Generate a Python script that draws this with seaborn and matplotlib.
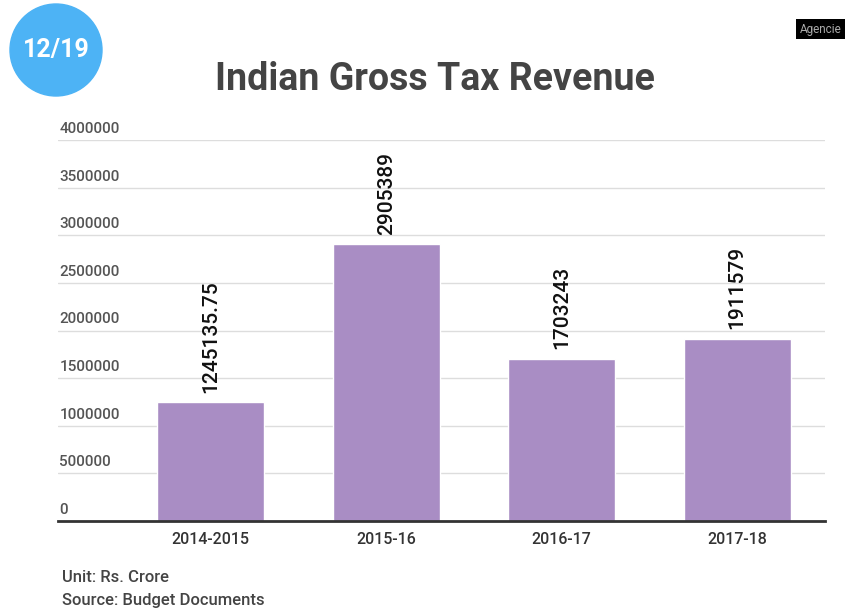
import matplotlib
matplotlib.use("Agg")
import matplotlib.pyplot as plt
import seaborn as sns
import pandas as pd
from matplotlib.patches import Circle

# Data
years = ["2014-2015", "2015-16", "2016-17", "2017-18"]
revenue = [1245135.75, 2905389, 1703243, 1911579]
value_labels = ["1245135.75", "2905389", "1703243", "1911579"]
y_ticks = [0, 500000, 1000000, 1500000, 2000000, 2500000, 3000000, 3500000, 4000000]

df = pd.DataFrame({"year": years, "revenue": revenue})

sns.set_style("white")
plt.rcParams["font.family"] = ["Roboto", "DejaVu Sans"]

fig = plt.figure(figsize=(8.46, 6.13), dpi=100)
ax = fig.add_axes([0.0686, 0.150, 0.9066, 0.6215])

sns.barplot(data=df, x="year", y="revenue", color="#a98dc4", width=0.61,
            saturation=1, ax=ax, zorder=3)

ax.set_xlim(-0.869, 3.50)
ax.set_ylim(0, 4000000)
ax.set_xlabel("")
ax.set_ylabel("")

# Horizontal gridlines with labels sitting above them
ax.set_yticks(y_ticks)
ax.set_yticklabels([])
ax.tick_params(axis="y", length=0)
for t in y_ticks:
    if t > 0:
        ax.axhline(t, color="#dddddd", lw=1, zorder=1)
    ax.annotate(str(t), xy=(0, t), xycoords=("axes fraction", "data"),
                xytext=(1, 3), textcoords="offset points",
                ha="left", va="bottom", fontsize=11, fontweight="medium",
                color="#555555")

for s in ["top", "right", "left"]:
    ax.spines[s].set_visible(False)
ax.spines["bottom"].set_color("#333333")
ax.spines["bottom"].set_linewidth(2)
ax.spines["bottom"].set_zorder(4)

ax.tick_params(axis="x", length=0, pad=8, labelsize=11.5, labelcolor="#333333")
for lbl in ax.get_xticklabels():
    lbl.set_fontweight("medium")

# Value labels above bars
for i, (v, lab) in enumerate(zip(revenue, value_labels)):
    ax.annotate(lab, xy=(i, v), xytext=(0, 7), textcoords="offset points",
                rotation=90, ha="center", va="bottom", fontsize=15,
                fontweight="medium", color="#111111")

# Title
fig.text(0.514, 0.870, "Indian Gross Tax Revenue", ha="center", va="center",
         fontsize=27, fontweight="bold", color="#444444")

# Badge
badge = Circle((56, 613 - 50), 46, transform=None, color="#4db3f5",
               zorder=5)
fig.patches.append(badge)
fig.text(56 / 846, (613 - 50) / 613, "12/19", ha="center", va="center",
         fontsize=18, fontweight="bold", color="white", zorder=6)

# Corner tag
fig.text(0.945, 1 - 29 / 613, "Agencie", ha="left", va="center", fontsize=8.5,
         color="#aaaaaa",
         bbox=dict(boxstyle="square,pad=0.3", fc="black", ec="none"))

# Footnotes
fig.text(62 / 846, 1 - 577 / 613, "Unit: Rs. Crore", ha="left", va="center",
         fontsize=12, fontweight="medium", color="#444444")
fig.text(62 / 846, 1 - 601 / 613, "Source: Budget Documents", ha="left",
         va="center", fontsize=12, fontweight="medium", color="#444444")

fig.savefig("out.png", dpi=100)
